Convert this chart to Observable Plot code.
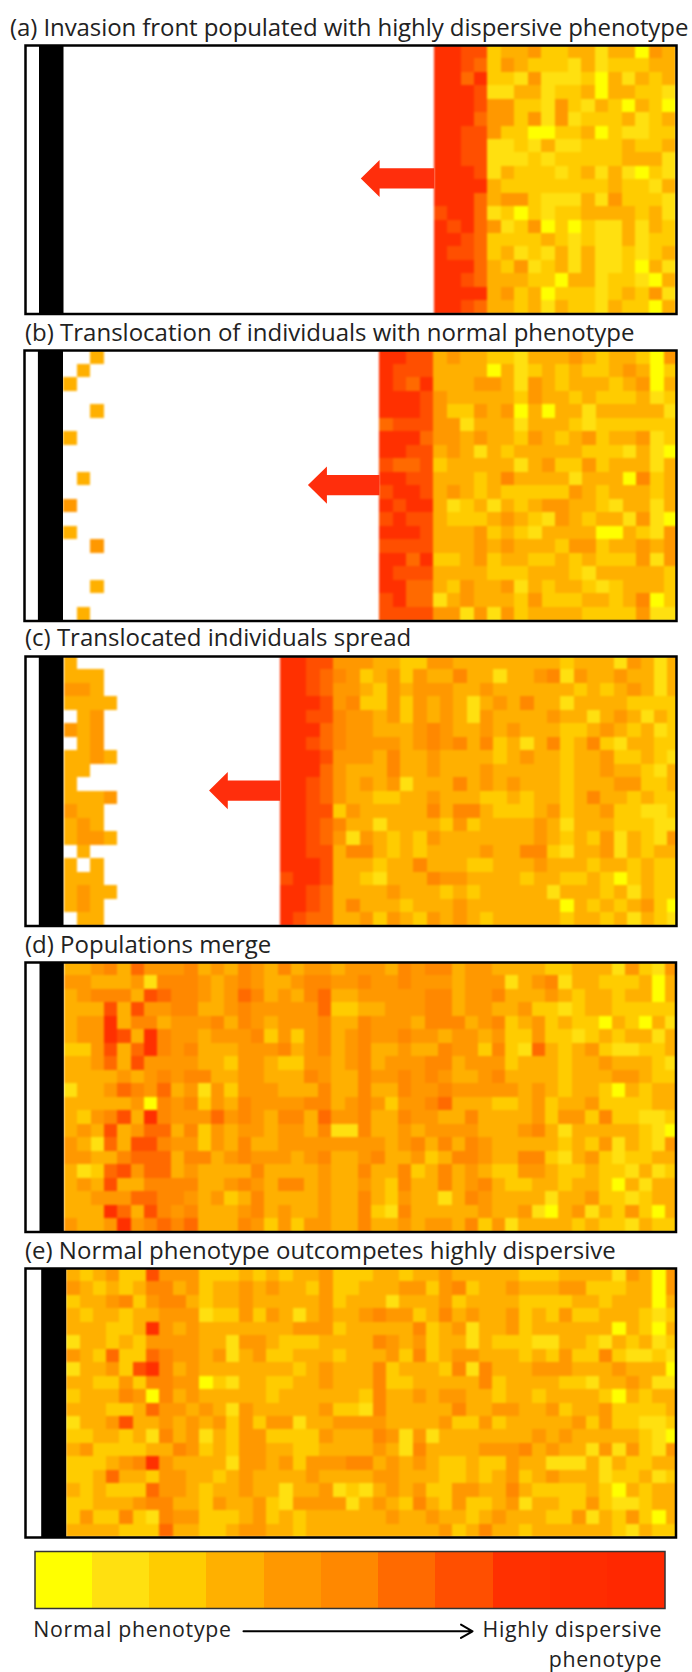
<!DOCTYPE html>
<html><head><meta charset="utf-8">
<script src="https://cdn.jsdelivr.net/npm/d3@7"></script>
<script src="https://cdn.jsdelivr.net/npm/@observablehq/plot@0.6"></script>
<style>
html,body{margin:0;padding:0;background:#fff}
#page{position:relative;width:692px;height:1672px;overflow:hidden;font-family:"Open Sans",sans-serif;color:#222}
#page>svg,#page>div{position:absolute}
.t{font-size:24px;white-space:nowrap;line-height:28px}
</style></head><body><div id="page"></div>
<script>
const titles=["(a) Invasion front populated with highly dispersive phenotype","(b) Translocation of individuals with normal phenotype","(c) Translocated individuals spread","(d) Populations merge","(e) Normal phenotype outcompetes highly dispersive"];
const levels=["0","1","2","3","4","5","6","7","8","9","a"];
const palette=["#ffff00","#ffe010","#ffcc00","#ffb000","#ff9800","#ff8800","#ff6a00","#ff4f00","#ff3000","#ff2c00","#ff2800"];
const panelA=["887723342233133043","887624322213122233","886822141112031323","888711331223033221","888744221421320320","888644241412223123","887742200223021122","887711213112223223","887711121222223331","888713222123131021","888832222222232213","888634421113142221","788612021223333231","878641240202113132","887622223212113122","877623121313112123","888632412313112031","887633322033122103","888834230222123241","887633231322132203"];
const panelB=["8877343322133343233204","8777333303123232234302","8768333443143233323403","8887433333243323222312","8887422434030331333331","6777441333133321222222","8886443433243234233412","8877343132333332221310","7667233333134224233313","8877333235333313330523","7887343232222243233323","8788312313234433213313","7877322234321432331410","8887333423213333003214","7777333434333244233434","8868223423322323222414","8777333322233321333332","8866324334132332123332","7866134333242223323502","7777441414233332222411"];
const patchesB=["..3.",".3..","3...","....","..3.","....","3...","....","....",".3..","....","4...","....","3...","..4.","....","....","..3.","....",".3.."];
const panelC=["88774443322443333333233314313","88765423424335331345143343313","88764432434443343333323234313","88874522424343134533133332222","88775443424343143334331343132","88865443334543343333223432312","88765444434545352135235213322","88874443533433332433233422321","88864333533433343333233433213","88764343413335343333233344223","88764332233433322233235332322","88772433333535532234233422112","88765331333324233343133322211","88764143232433333343232413214","88773553232333343552133413233","88873332335333223343332332322","78873321333544333233223202322","88763333433323233331333231322","88763533323334333333032323420","87663342432434323333233231321"];
const extraC=[3,3,3,3,3,4,3,3,3,4,3,2,3,3,3,3,3,3,3,3];
const patchesC=["3...","333.","443.","3333",".34.","434.",".34.","3343","33..","3...","3334","433.","343.","3443",".3..","3.3.","333.","3433","343.",".33."];
const panelD=["334536444534354353443443545534433332233314214","443334155543454334554544544434441345133222303","345553765543465343563444445534453334323323303","333737445533454444462334445534433422123322222","344835534445354344453544435553452342322032031","344873854434445242453544544344342242212323313","224736854533344453453533433544252163234211223","334637444433244322443534445534442333233433321","333343454553344333543544545433453333233344322","133465463414244433353533544544444343233203233","333334054524354444553542445633322342334222233","324573854446454355364533544335333342442522112","343734663524344344351533434444333453133333210","431637754424353344444443453535433333232413214","443356663553454443453453342355433552134212233","312674663433335333343533523534322443223221312","343733555533454355343432533534532233233203133","334446655434235333343532433135433331334221233","333863754533345343343521533333433410341324203","433484565633354242443533434435241333323221322"];
const extraD=[4,4,3,2,3,4,4,4,3,3,4,4,1,4,3,3,3,3,3,3];
const panelE=["323422744422232323342233233433333222333314304","432323553423343433242333442452334333442223304","233452455323343333342331333423333222233233303","323323344412242431343454423534334232422333212","333223843433333334442333352341334233333303203","133232444433144322233354342331322211332132312","432622654434134223332334252344333232422521121","133427853433333332343352333251533344433343330","332242554402133223343352233333523333221334311","233354053433333233333253343443323323333203233","333223644343143333342153333353344334233422223","133473343434242441334443333422423333342422112","223323153413244222243354141333333343433333210","342222335423244332233343153333444534331414214","222345843333144342444534343223224331113132233","223633244332343333433344333223234234333122312","323222644323343313341134342244335322223203233","223334553324334214444343253242234133224211233","242252154422234232333334334332343332241324203","333322263322344332333333333423533233333321322"];
const extraE=[2,2,3,3,3,3,3,3,3,3,2,4,3,3,5,3,2,1,3,3];
const splice=(rows,extra,k)=>rows.map((s,r)=>s.slice(0,k)+extra[r]+s.slice(k));
const legendLeft="Normal phenotype";
const legendRight=["Highly dispersive","phenotype"];

const panels=[
 {rows:panelA,patches:[],front:27.57,tip:22.1,row:9.9,cw:13.43,l:24.5,t:44.5,r:675.5,b:313,bs:38.5,be:63,tx:10,ty:13,ls:"-0.08px"},
 {rows:panelB,patches:patchesB,front:23.32,tip:18.04,row:9.95,cw:13.55,l:23.5,t:350,r:675.5,b:620.5,bs:37.4,be:62.5,tx:25,ty:318},
 {rows:splice(panelC,extraC,17),patches:patchesC,front:16.16,tip:10.85,row:9.95,cw:13.37,l:24.5,t:656,r:675.5,b:925.5,bs:38.3,be:63,tx:25,ty:623},
 {rows:splice(panelD,extraD,21),patches:[],front:0,tip:null,cw:13.37,l:24.5,t:962,r:675,b:1231.5,bs:39,be:63.3,tx:25,ty:930},
 {rows:splice(panelE,extraE,21),patches:[],front:0,tip:null,cw:13.32,l:24.5,t:1267.5,r:675,b:1536.5,bs:40.7,be:65.7,tx:25,ty:1236}
];
const page=document.getElementById("page");
function cellsOf(rows,patches,front){
  const out=[];
  rows.forEach((s,r)=>{[...s].forEach((v,c)=>out.push({c:c+front,r,level:v}));});
  patches.forEach((s,r)=>{[...s].forEach((v,c)=>{if(v!==".")out.push({c,r,level:v});});});
  return out;
}
const colorOpt={type:"ordinal",domain:levels,range:palette};

panels.forEach((g,i)=>{
  const W=g.r-g.l,H=g.b-g.t;
  const x0=(g.l-g.be)/g.cw, xmax=(g.r-g.be)/g.cw, gap=(g.bs-g.be)/g.cw;
  const marks=[
    Plot.rect(cellsOf(g.rows,g.patches,g.front),{x1:"c",x2:d=>d.c+1,y1:"r",y2:d=>d.r+1,fill:"level",shapeRendering:"crispEdges",clip:true}),
    Plot.rect([{a:gap,b:0}],{x1:"a",x2:"b",y1:()=>0,y2:()=>20,fill:"#000"})
  ];
  if(g.tip!=null){
    const t=g.tip,y=g.row,f=g.front;
    const arrow=[[t,y],[t+1.4,y-1.38],[t+1.4,y-.75],[f,y-.75],[f,y+.75],[t+1.4,y+.75],[t+1.4,y+1.38],[t,y]];
    marks.push(Plot.line(arrow,{x:"0",y:"1",fill:"#ff2e0c",stroke:"none",curve:"linear"}));
  }
  marks.push(Plot.frame({stroke:"#000",strokeWidth:2.5}));
  const svg=Plot.plot({width:W,height:H,margin:0,
    x:{domain:[x0,xmax],range:[0,W],axis:null},
    y:{domain:[0,20],range:[0,H],axis:null},
    color:colorOpt,style:{overflow:"visible",background:"transparent"},marks});
  svg.style.left=g.l+"px";svg.style.top=g.t+"px";
  const cellsG=svg.querySelector('g[aria-label="rect"]');
  if(cellsG) cellsG.style.filter="blur(1px)";
  page.appendChild(svg);
  const d=document.createElement("div");
  d.className="t";d.textContent=titles[i];d.style.left=g.tx+"px";d.style.top=g.ty+"px";
  if(g.ls) d.style.letterSpacing=g.ls;
  page.appendChild(d);
});

// legend
const lg=Plot.plot({width:692,height:122,marginLeft:34.5,marginRight:27.5,marginTop:1,marginBottom:64,
  x:{domain:[0,11],axis:null},y:{domain:[0,1],range:[1,58],axis:null},color:colorOpt,
  style:{overflow:"visible",background:"transparent",letterSpacing:"0.7px"},
  marks:[
    Plot.rect(levels.map((v,i)=>({v,i})),{x1:"i",x2:d=>d.i+1,y1:()=>0,y2:()=>1,fill:"v",shapeRendering:"crispEdges"}),
    Plot.frame({stroke:"#333",strokeWidth:1.5}),
    Plot.text([legendLeft],{x:()=>-0.03,y:()=>1.38,text:d=>d,textAnchor:"start",fontSize:21.3,fontFamily:"Open Sans",fill:"#222"}),
    Plot.arrow([0],{x1:()=>3.64,x2:()=>7.64,y1:()=>1.4,y2:()=>1.4,stroke:"#000",strokeWidth:2,headLength:10,bend:0}),
    Plot.text([legendRight[0]],{x:()=>10.95,y:()=>1.38,text:d=>d,textAnchor:"end",fontSize:21.3,fontFamily:"Open Sans",fill:"#222"}),
    Plot.text([legendRight[1]],{x:()=>10.95,y:()=>1.9,text:d=>d,textAnchor:"end",fontSize:21.3,fontFamily:"Open Sans",fill:"#222"})
  ]});
lg.style.left="0px";lg.style.top="1550px";
page.appendChild(lg);
</script></body></html>
